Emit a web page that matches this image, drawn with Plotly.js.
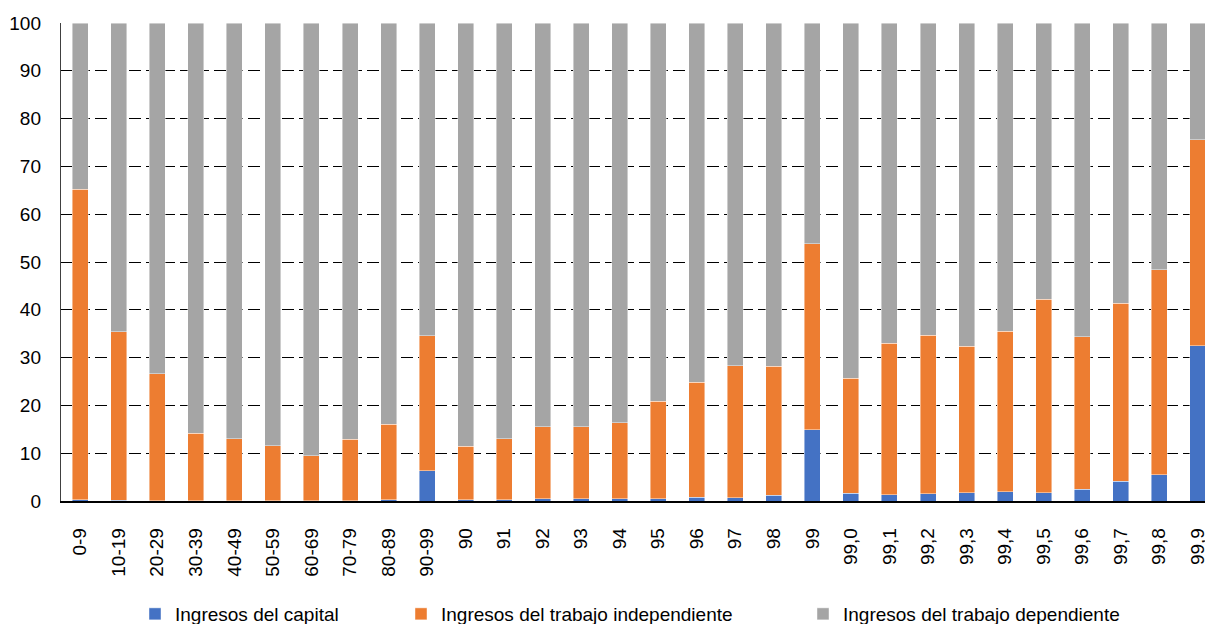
<!DOCTYPE html>
<html>
<head>
<meta charset="utf-8">
<script src="https://cdn.plot.ly/plotly-3.0.1.min.js"></script>
<style>
html, body { margin: 0; padding: 0; overflow: hidden; background: #fff; width: 1205px; height: 624px; }
#chart { width: 1220px; height: 624px; }
</style>
</head>
<body>
<div id="chart"></div>
<script>
const categories = ["0-9","10-19","20-29","30-39","40-49","50-59","60-69","70-79","80-89","90-99",
  "90","91","92","93","94","95","96","97","98","99",
  "99,0","99,1","99,2","99,3","99,4","99,5","99,6","99,7","99,8","99,9"];

const capital = [0.3,0.2,0.1,0.1,0.1,0.1,0.1,0.1,0.3,6.3,
  0.3,0.3,0.5,0.5,0.5,0.5,0.8,0.7,1.2,14.9,
  1.6,1.3,1.5,1.7,1.9,1.7,2.5,4.1,5.5,32.5];

const independiente = [64.9,35.2,26.5,14.1,12.9,11.5,9.4,12.8,15.8,28.3,
  11.2,12.7,15.0,15.0,15.9,20.4,24.0,27.6,27.0,38.9,
  24.1,31.7,33.2,30.7,33.6,40.5,31.9,37.3,42.9,43.1];

const dependiente = [34.8,64.6,73.4,85.8,87.0,88.4,90.5,87.1,83.9,65.4,
  88.5,87.0,84.5,84.5,83.6,79.1,75.2,71.7,71.8,46.2,
  74.3,67.0,65.3,67.6,64.5,57.8,65.6,58.6,51.6,24.4];

const seriesNames = ["Ingresos del capital", "Ingresos del trabajo independiente", "Ingresos del trabajo dependiente"];

const W = 1220, H = 624;
const FONT = "Liberation Sans, Arial, sans-serif";
const edge = {color: "rgba(255,255,255,0.55)", width: 0.8};

const traces = [
  {type: "bar", name: seriesNames[0], x: categories, y: capital, marker: {color: "#4472C4", line: edge}, legend: "legend", hoverinfo: "x+y+name"},
  {type: "bar", name: seriesNames[1], x: categories, y: independiente, marker: {color: "#ED7D31", line: edge}, legend: "legend2", hoverinfo: "x+y+name"},
  {type: "bar", name: seriesNames[2], x: categories, y: dependiente, marker: {color: "#A5A5A5", line: edge}, legend: "legend3", hoverinfo: "x+y+name"}
];

function leg(px) {
  return {
    orientation: "h", xref: "container", yref: "container",
    x: px / W, y: 1 - 614 / H, xanchor: "left", yanchor: "middle",
    font: {family: FONT, size: 19, color: "#000"},
    bgcolor: "rgba(0,0,0,0)", borderwidth: 0, itemclick: false, itemdoubleclick: false
  };
}

const layout = {
  width: W, height: H,
  margin: {l: 61, r: 3, t: 23, b: 123, pad: 0},
  paper_bgcolor: "#fff", plot_bgcolor: "#fff",
  barmode: "stack", bargap: 0.585,
  font: {family: FONT, size: 19, color: "#000"},
  showlegend: true,
  legend: leg(135),
  legend2: leg(401),
  legend3: leg(803),
  xaxis: {
    type: "category", tickangle: -90,
    tickfont: {family: FONT, size: 19, color: "#000"},
    ticks: "outside", ticklen: 0, ticklabelstandoff: 18,
    showgrid: false, showline: true, linecolor: "#000", linewidth: 1.5,
    zeroline: false, fixedrange: true
  },
  yaxis: {
    range: [0, 100], dtick: 10, tick0: 0,
    tickfont: {family: FONT, size: 19, color: "#000"},
    ticks: "outside", ticklen: 0, ticklabelstandoff: 15,
    showgrid: true, gridcolor: "#000", gridwidth: 1, griddash: "12px,5px",
    showline: true, linecolor: "#404040", linewidth: 1.2,
    zeroline: false, fixedrange: true
  }
};

Plotly.newPlot("chart", traces, layout, {displayModeBar: false, staticPlot: true});
</script>
</body>
</html>
